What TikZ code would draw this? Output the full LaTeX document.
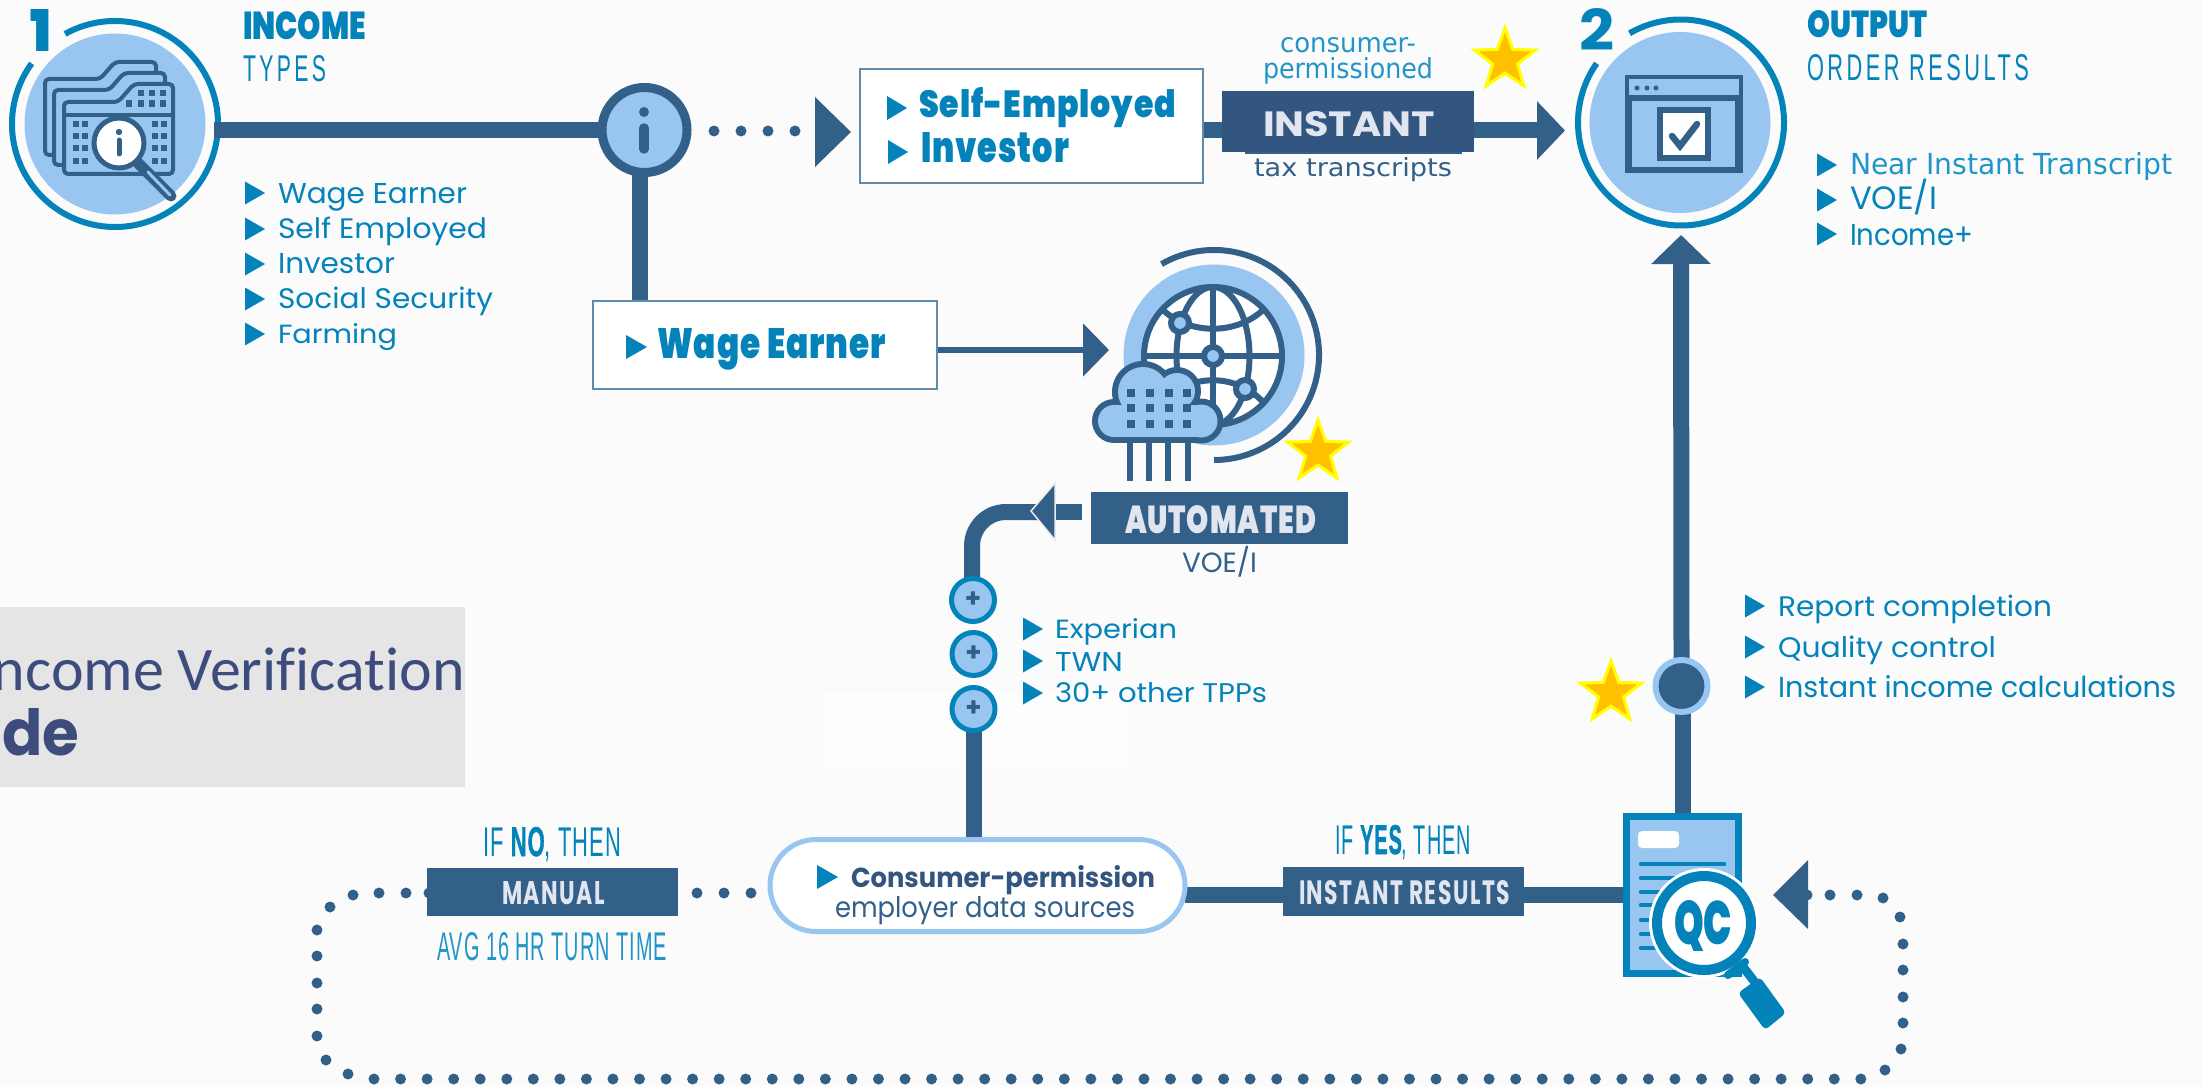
\documentclass[tikz,border=0pt]{standalone}
\usepackage{graphicx}
\usepackage{fontspec}
\usetikzlibrary{shapes.geometric,arrows.meta,calc}
\setmainfont{Poppins}
\newfontfamily\gotham{Poppins}
\newfontfamily\dejavu{DejaVu Sans}
\newfontfamily\carl[Ligatures=NoCommon]{Carlito}
\newfontfamily\lib{Liberation Sans}
\newfontfamily\libs[LetterSpace=5,BoldFeatures={FakeBold=1.5}]{Liberation Sans}
\newfontfamily\libsp[LetterSpace=16]{Liberation Sans}
\newfontfamily\libsq[LetterSpace=7]{Poppins}
\IfFontExistsTF{Poppins Black}{%
  \newfontfamily\heavy[LetterSpace=3]{Poppins Black}%
  \newfontfamily\heavyb{Poppins Black}%
}{%
  \newfontfamily\heavy[LetterSpace=3]{Poppins}[UprightFont=*-Bold]%
  \newfontfamily\heavyb{Poppins}[UprightFont=*-Bold]%
}
\definecolor{dark}{HTML}{326089}
\definecolor{inst}{HTML}{32567F}
\definecolor{blu}{HTML}{0383BA}
\definecolor{lite}{HTML}{98C6F0}
\definecolor{bgc}{HTML}{FBFBFB}
\definecolor{onD}{HTML}{E1E5F0}
\definecolor{mid}{HTML}{2295C8}
\definecolor{titl}{HTML}{3D4C7D}
\definecolor{bord}{HTML}{5E8CAF}
\pgfdeclarelayer{bg}\pgfdeclarelayer{conn}\pgfsetlayers{bg,conn,main}
\newcommand\fw[2]{\resizebox{#1pt}{!}{#2}}
\newcommand\fwh[3]{\resizebox{#1pt}{#2pt}{#3}}
\newcommand\lbl[5]{\node[lab,text=#4] (#1) at (#2,#3) {#5};}
\newcommand\bul[2]{\fill[blu] (#1,#2-11.5) -- (#1+20,#2) -- (#1,#2+11.5) -- cycle;}
\newcommand\ringarc[5]{\draw[ringln,#5] (#1,#2) ++(#3:#4) arc[start angle=#3,end angle=#3+335,radius=#4];}
\newcommand\folder[5]{\draw[dark,fill=lite,line width=4pt,line join=round,rounded corners=4pt] (#1,#5) -- (#1,#2) -- (#3,#2) -- (#3+15,#2-17) -- (#4,#2-17) -- (#4,#5) -- cycle;}
\tikzset{
  x=1pt,y=-1pt,
  lab/.style={anchor=base west,inner sep=0pt,outer sep=0pt,font=\gotham},
  pipe/.style={draw=dark,line width=16pt},
  ringln/.style={line width=6pt,draw=blu},
  bigc/.style={circle,fill=lite,inner sep=0pt,outer sep=0pt,minimum size=181pt},
  darkbox/.style={rectangle,fill=dark,inner sep=0pt,outer sep=0pt},
  whitebox/.style={rectangle,fill=white,draw=bord,line width=1.5pt,inner sep=0pt,outer sep=0pt},
  plusc/.style={circle,draw=blu,fill=lite,line width=5pt,inner sep=0pt,outer sep=0pt,minimum size=43pt,text=dark,font=\gotham\bfseries\fontsize{26}{26}\selectfont},
  goldstar/.style={star,star points=5,star point ratio=2.45,fill={rgb,255:red,255;green,192;blue,0},draw={rgb,255:red,255;green,255;blue,0},line width=3pt,inner sep=0pt,outer sep=0pt,minimum size=64pt},
  dotc/.style={fill=dark},
}
\begin{document}
\begin{tikzpicture}
\useasboundingbox (0,0) rectangle (2202,1086);
\begin{pgfonlayer}{bg}
\fill[bgc] (0,0) rectangle (2202,1086);
\fill[white!50!bgc] (823,692) rectangle (1130,766);
\fill[black!10] (0,607) rectangle (465,787);
\end{pgfonlayer}

% gray title
\node[anchor=base east,inner sep=0pt,text=titl] (ttl1) at (465,690) {\fw{472}{\carl ncome Verification}};
\node[anchor=base west,inner sep=0pt,text=titl] (ttl2) at (2,755) {\fwh{77}{47}{\gotham\bfseries de}};

% ===== circle 1
\begin{pgfonlayer}{bg}
\node[bigc] (c1) at (115,124) {};
\ringarc{115}{124}{-119}{103}{}
\folder{45}{79}{100}{156}{155}
\folder{54}{90}{109}{165}{165}
\draw[dark,fill=lite,line width=4pt,line join=round,rounded corners=4pt] (64,174) -- (64,102) -- (118,102) -- (134,84) -- (173,84) -- (173,174) -- cycle;
\draw[dark,line width=3.5pt] (64,115) -- (173,115);
\foreach \x in {141,152,163} \fill[dark] (\x-3,90) rectangle (\x+3,96);
\foreach \x in {129,141,152,163} \fill[dark] (\x-3,100) rectangle (\x+3,107);
\foreach \y in {124,136,148,161} \foreach \x in {76,85,155,164} \fill[dark] (\x-3,\y-3) rectangle (\x+3,\y+3);
\draw[dark,line width=11pt,line cap=round] (138,163) -- (171,196);
\draw[lite,line width=3pt,line cap=round] (148,172) -- (170,195);
\draw[dark,fill=white,line width=5pt] (119,143) circle[radius=25];
\fill[dark] (119,132) circle[radius=3.2];
\draw[dark,line width=5pt,line cap=round] (119,140) -- (119,154);
\end{pgfonlayer}
\node[lab,text=blu] (n1) at (30,52) {\fwh{21}{42}{\heavyb 1}};
\node[lab,text=blu] (h1) at (243,40) {\fwh{123}{28}{\heavyb INCOME}};
\node[lab,text=blu] (h2) at (243,82) {\fwh{83}{26}{\libsp TYPES}};
\bul{245}{193}\bul{245}{229}\bul{245}{264}\bul{245}{299}\bul{245}{334}
\lbl{la}{278}{203}{blu}{\fwh{189}{20}{Wage Earner}}
\lbl{lb}{278}{238}{blu}{\fwh{209}{21.5}{Self Employed}}
\lbl{lc}{278}{273}{blu}{\fwh{117}{20}{Investor}}
\lbl{ld}{278}{308}{blu}{\fwh{215}{21.5}{Social Security}}
\lbl{le}{278}{343}{blu}{\fwh{119}{20}{Farming}}

% ===== info node
\node[circle,draw=dark,fill=lite,line width=9pt,inner sep=0pt,outer sep=0pt,minimum size=85pt] (info) at (644.5,130) {};
\fill[dark] (644,112) circle[radius=5];
\draw[dark,line width=9.5pt,line cap=round] (644,128) -- (644,149);
\coordinate (startA) at (214,130.5);
\coordinate (wv) at (640,170);
\begin{pgfonlayer}{conn}
\draw[pipe] (startA) -- (startA -| info.west);
\end{pgfonlayer}

% ===== Wage Earner box
\node[whitebox,minimum width=344pt,minimum height=88pt] (wage) at (765,345) {};
\begin{pgfonlayer}{conn}
\draw[pipe] (wv) -- (wv |- wage.north);
\end{pgfonlayer}
\fill[blu] (626,335) -- (647,347) -- (626,359) -- cycle;
\node[lab,text=blu] (wt) at (657,358) {\fwh{229}{30}{\heavy Wage Earner}};

% dots to chevron
\foreach \x in {714,741,768,795} \fill[dotc] (\x,131) circle[radius=5.5];
\fill[dark] (815,97) -- (851,132) -- (815,167) -- cycle;

% ===== self employed box
\node[whitebox,minimum width=343pt,minimum height=114pt] (self) at (1031.5,126) {};
\fill[blu] (887,96) -- (907,108) -- (887,120) -- cycle;
\fill[blu] (888,140) -- (908,152) -- (888,164) -- cycle;
\node[lab,text=blu] (s1) at (919,118) {\fwh{257}{30}{\heavy Self-Employed}};
\node[lab,text=blu] (s2) at (921,163) {\fwh{148}{30}{\heavy Investor}};

% ===== INSTANT
\fill[dark] (1245,100) rectangle (1462,154);
\node[rectangle,fill=inst,inner sep=0pt,outer sep=0pt,minimum width=252pt,minimum height=61pt] (inst) at (1348,121.5) {};
\node[lab,text=onD] (it) at (1263,137) {\fwh{172}{25}{\gotham\bfseries INSTANT}};
\lbl{cp1}{1280}{53}{mid}{\fwh{136}{15}{\dejavu consumer-}}
\lbl{cp2}{1263}{79}{mid}{\fwh{170}{21}{\dejavu permissioned}}
\lbl{tt}{1254}{176}{dark}{\fwh{198}{19}{\dejavu tax transcripts}}
\node[goldstar] (st1) at (1505,60) {};
\coordinate (y130) at (1203,130.5);
\coordinate (tip2) at (1565,130.5);
\begin{pgfonlayer}{conn}
\draw[pipe] (self.east |- y130) -- (inst.west |- y130);
\draw[pipe,-{Triangle[length=28pt,width=57pt]}] (inst.east |- y130) -- (tip2);
\end{pgfonlayer}

% ===== circle 2
\begin{pgfonlayer}{bg}
\node[bigc] (c2) at (1680,122.5) {};
\ringarc{1681}{122.5}{-120}{103}{}
\end{pgfonlayer}
\fill[dark] (1625,75) rectangle (1743,173);
\fill[lite] (1629,79) rectangle (1739,95);
\fill[lite] (1632,101) rectangle (1735,167);
\foreach \x in {1637,1647,1656} \fill[dark] (\x,88) circle[radius=2.5];
\fill[dark] (1657,107) rectangle (1711,161);
\fill[white] (1663,113) rectangle (1705,155);
\draw[dark,line width=6.5pt,line cap=round,line join=miter] (1672,136) -- (1680,146) -- (1697,124);
\node[lab,text=blu] (n2) at (1579.5,51) {\fwh{35}{42}{\gotham\bfseries 2}};
\node[lab,text=blu] (h3) at (1807,38) {\fwh{120}{27}{\heavyb OUTPUT}};
\node[lab,text=blu] (h4) at (1807,81) {\fwh{222}{26}{\libsp ORDER RESULTS}};
\bul{1817}{165}\bul{1817}{200}\bul{1817}{234}
\lbl{ra}{1850}{175}{mid}{\fwh{322}{22}{\dejavu Near Instant Transcript}}
\lbl{rb}{1850}{210}{blu}{\fw{87}{VOE/I}}
\lbl{rc}{1850}{245}{blu}{\fwh{123}{21}{Income+}}

% ===== globe
\begin{pgfonlayer}{bg}
\node[bigc] (c3) at (1214,355) {};
\draw[dark,line width=6pt] (1214,355) ++(-120:105) arc[start angle=-120,end angle=90,radius=105];
\end{pgfonlayer}
\node[circle,draw=dark,fill=white,line width=6pt,inner sep=0pt,outer sep=0pt,minimum size=138pt] (globe) at (1213,356) {};
\draw[dark,line width=6pt] (1213,356) ellipse[x radius=36.5,y radius=69];
\draw[dark,line width=6pt] (globe.north) -- (globe.south);
\draw[dark,line width=6pt] (globe.west) -- (globe.east);
\draw[dark,line width=6pt] (1163,310) .. controls (1190,335) and (1236,335) .. (1263,310);
\draw[dark,line width=6pt] (1163,402) .. controls (1190,373) and (1236,373) .. (1263,402);
\foreach \p in {(1180,323),(1213,356),(1245,389)} \draw[dark,fill=lite,line width=6pt] \p circle[radius=9];
% cloud
\foreach \cx/\cy/\r in {1114/421/22,1143/392/31,1177/391/24,1201/421/22.5} \fill[dark] (\cx,\cy) circle[radius=\r];
\fill[dark] (1114,399) rectangle (1201,443);
\foreach \cx/\cy/\r in {1114/421/16,1143/392/25,1177/391/18,1201/421/16.5} \fill[lite] (\cx,\cy) circle[radius=\r];
\fill[lite] (1114,405) rectangle (1201,437);
\foreach \y in {393,408,424} \foreach \x in {1131,1150,1169,1187} \fill[dark] (\x-4,\y-4) rectangle (\x+4,\y+4);
\foreach \x in {1130,1149,1168,1188} \draw[dark,line width=6pt] (\x,441) -- (\x,481);
\node[goldstar] (st2) at (1318,452) {};
\coordinate (wa) at (937,350);
\coordinate (wtip) at (1109,350);
\begin{pgfonlayer}{conn}
\draw[dark,line width=6pt,-{Triangle[length=26pt,width=52pt]}] (wage.east |- wa) -- (wtip);
\end{pgfonlayer}

% ===== AUTOMATED
\node[darkbox,minimum width=257pt,minimum height=52pt] (auto) at (1219.5,518) {};
\node[lab,text=onD] (at) at (1125,533) {\fwh{191}{28}{\heavy AUTOMATED}};
\lbl{vi}{1182}{572}{dark}{\fw{75}{VOE/I}}
\node[plusc] (p1) at (973,600) {+};
\node[plusc] (p2) at (973.5,654) {+};
\node[plusc] (p3) at (973.5,709) {+};
\coordinate (autoOut) at (1082,512);
\coordinate (autoIn) at (1055,512);
\coordinate (bend) at (972,512);
\begin{pgfonlayer}{conn}
\draw[pipe,rounded corners=34pt] (1045,512) -- (bend) -- (p1.north -| bend);
\draw[pipe] (autoOut) -- (autoIn);
\draw[draw={rgb,255:red,236;green,236;blue,236},fill=dark,line width=1.5pt] (1031,511) -- (1055,483) -- (1055,540) -- cycle;
\end{pgfonlayer}
\bul{1023}{629}\bul{1023}{661}\bul{1023}{693}
\lbl{ea}{1055}{638}{blu}{\fwh{122}{20}{Experian}}
\lbl{eb}{1055}{671}{blu}{\fwh{68}{19}{TWN}}
\lbl{ec}{1055}{702}{blu}{\fwh{212}{20}{30+ other TPPs}}

% ===== pill
\node[rectangle,rounded corners=46pt,draw=lite,fill=white,line width=5pt,inner sep=0pt,outer sep=0pt,minimum width=415pt,minimum height=92pt] (pill) at (977.5,885.5) {};
\fill[blu] (817,865) -- (838,877) -- (817,889) -- cycle;
\lbl{pa}{851}{887}{inst}{\fwh{304}{22}{\bfseries Consumer-permission}}
\lbl{pb}{835}{917}{dark}{\fwh{300}{21}{employer data sources}}
\begin{pgfonlayer}{conn}
\draw[pipe] (p3.south) -- (p3.south |- pill.north);
\end{pgfonlayer}

% ===== MANUAL
\foreach \x/\y in {429/893} \fill[dotc] (\x,\y) circle[radius=5.5];
\node[darkbox,minimum width=251pt,minimum height=48pt] (man) at (552.5,892) {};
\node[lab,text=onD] (mt) at (502,904) {\fwh{103}{23}{\libsq\bfseries MANUAL}};
\node[lab,text=blu] (ifn) at (483,856) {\fwh{138}{29}{\libs IF {\bfseries NO}, THEN}};
\node[lab,text=mid] (avg) at (437,960) {\fwh{230}{28}{\libs AVG 16 HR TURN TIME}};

% ===== INSTANT RESULTS
\node[darkbox,minimum width=241pt,minimum height=49pt] (res) at (1403.5,891.5) {};
\node[lab,text=onD] (rt) at (1299,904) {\fwh{211}{24}{\libsq\bfseries INSTANT RESULTS}};
\node[lab,text=blu] (ify) at (1335,854) {\fwh{136}{29}{\libs IF {\bfseries YES}, THEN}};

% ===== QC document
\node[rectangle,draw=blu,fill=lite,line width=7pt,inner sep=0pt,outer sep=0pt,minimum width=112pt,minimum height=157pt] (doc) at (1682.5,895) {};
\fill[white,rounded corners=4pt] (1638,831) rectangle (1679,848);
\foreach \y in {864,878,892,905,920,934,948} \draw[blu,line width=4.5pt,line cap=round] (1641,\y) -- (1724,\y);
\coordinate (res1) at (1524,895);
\begin{pgfonlayer}{conn}
\draw[pipe] (pill.east |- res1) -- (res.west |- res1);
\draw[pipe] (res.east |- res1) -- (doc.west |- res1);
\end{pgfonlayer}
% magnifier
\draw[white,fill=white,line width=6pt,line join=round] (1738,993) -- (1760,977) -- (1786,1013) -- (1765,1030) -- cycle;
\fill[white] (1704,923) circle[radius=55];
\draw[blu,line width=9pt] (1740,963) -- (1757,985);
\draw[blu,line width=8pt,line cap=round] (1728,975) -- (1745,962);
\fill[blu,rounded corners=4pt] (1738,993) -- (1760,977) -- (1786,1013) -- (1765,1030) -- cycle;
\node[circle,draw=blu,fill=white,line width=10pt,inner sep=0pt,outer sep=0pt,minimum size=94pt] (mag) at (1704,923) {};
\node[lab,text=blu] (qc) at (1674,944) {\fwh{58}{44}{\heavyb QC}};

% ===== QC dot & vertical
\node[circle,draw=lite,fill=dark,line width=6pt,inner sep=0pt,outer sep=0pt,minimum size=52pt] (qd) at (1681.5,686) {};
\coordinate (tip3) at (1681,235);
\begin{pgfonlayer}{conn}
\draw[pipe] (doc.north) -- (doc.north |- qd.south);
\draw[pipe,-{Triangle[length=29pt,width=58pt]}] (qd.north) -- (tip3);
\end{pgfonlayer}
\node[goldstar] (st3) at (1611,693) {};
\bul{1745}{606}\bul{1745}{647}\bul{1745}{687}
\lbl{qa}{1778}{616}{blu}{\fwh{274}{21.5}{Report completion}}
\lbl{qb}{1778}{657}{blu}{\fwh{218}{21.5}{Quality control}}
\lbl{qc2}{1778}{697}{blu}{\fwh{398}{22}{Instant income calculations}}

% ===== dotted loop
\foreach \x/\y in {1807/895,1830/895,1857/895,1883/898,1900/917,1903/944,1903/970,1903/997,1903/1023,1901/1049,1885/1070,
 317/1036,317/1009,317/983,317/956,317/930,330/907,353/895,379/893,406/893,326/1060,348/1074,697/893,724/893,751/893}
 \fill[dotc] (\x,\y) circle[radius=5.5];
\foreach \i in {0,...,56} \fill[dotc] ({374+\i*26.55},1079) circle[radius=5.5];
\fill[dark] (1773,895) -- (1808,860) -- (1808,929) -- cycle;
\end{tikzpicture}
\end{document}
